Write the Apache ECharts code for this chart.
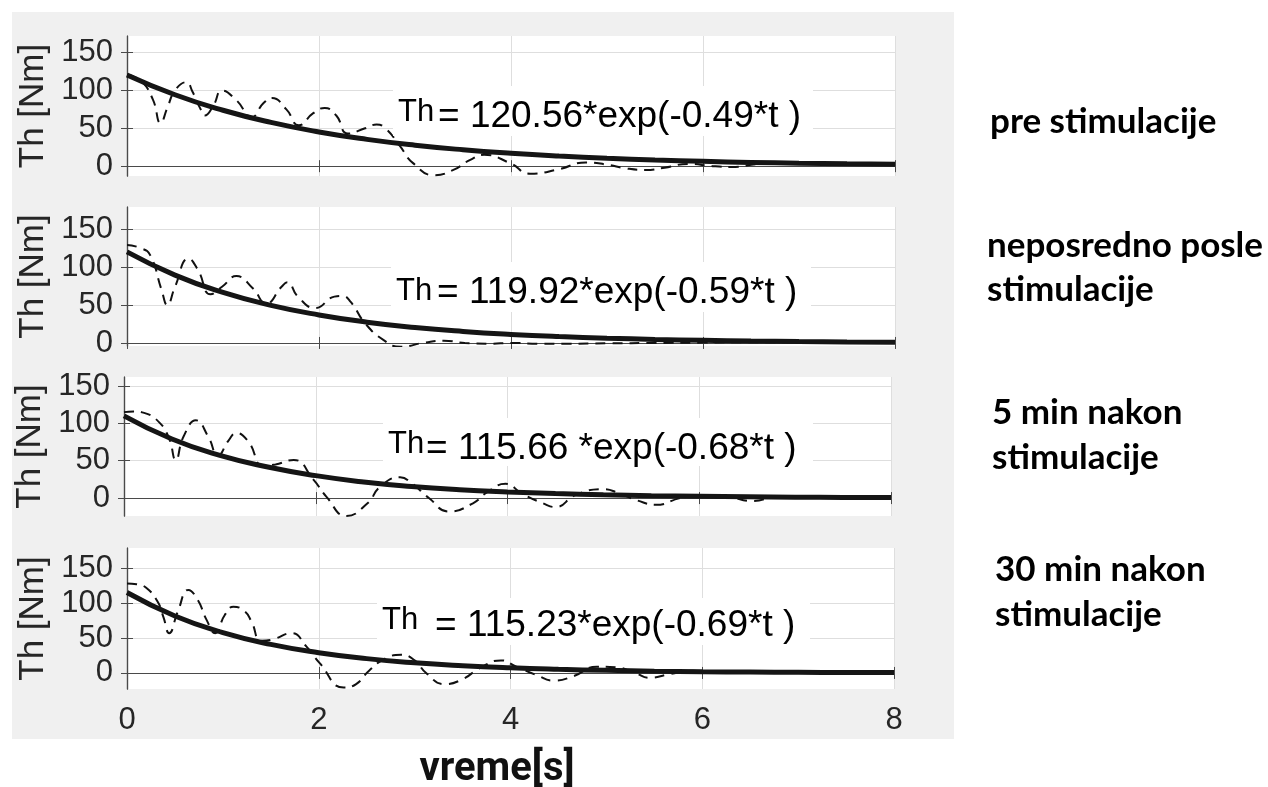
<!DOCTYPE html>
<html><head><meta charset="utf-8">
<script src="https://cdn.jsdelivr.net/npm/echarts@6/dist/echarts.min.js"></script>
<style>html,body{margin:0;padding:0;background:#fff}#c{width:1268px;height:787px}</style>
</head><body><div id="c"></div>
<script>
// ---- data ----
const xTicks = [0, 2, 4, 6, 8];
const yTicks = [0, 50, 100, 150];
const fitT = [0,0.5,1,1.5,2,2.5,3,3.5,4,4.5,5,5.5,6,6.5,7,7.5,8];
const fit1 = [120.6,94.4,73.9,57.8,45.2,35.4,27.7,21.7,17.0,13.3,10.4,8.1,6.4,5.0,3.9,3.1,2.4];
const fit2 = [119.9,89.3,66.5,49.5,36.9,27.4,20.4,15.2,11.3,8.4,6.3,4.7,3.5,2.6,1.9,1.4,1.1];
const fit3 = [110,79,57,41.5,30,21.5,15.5,11.2,8.2,6.0,4.3,3.1,2.3,1.7,1.2,0.9,0.7];
const fit4 = [115.2,81.6,57.8,40.9,29.0,20.5,14.5,10.3,7.3,5.2,3.7,2.6,1.8,1.3,0.9,0.6,0.5];

const dash1T = [0,0.15,0.27,0.35,0.42,0.5,0.62,0.68,0.76,0.81,0.9,0.99,1.14,1.3,1.42,1.51,1.66,1.79,1.94,2.06,2.18,2.3,2.48,2.6,2.7,2.84,2.98,3.2,3.4,3.57,3.72,3.99,4.2,4.5,4.78,5.0,5.2,5.4,5.6,5.85,6.1,6.3,6.6,7.0,7.5,8.0];
const dash1V = [121,112,88,57,77,100,111,99,77,67,80,100,87,65,83,90,75,54,70,77,67,43,50,55,49,27,4,-12,-5,8,15,4,-10,-4,5,2,-3,-5,-2,3,0,-1,3,3.5,3,2.4];
const dash2T = [0,0.14,0.24,0.36,0.42,0.5,0.64,0.74,0.87,0.99,1.14,1.31,1.45,1.61,1.67,1.78,1.96,2.16,2.24,2.33,2.48,2.67,2.85,3.1,3.3,3.52,3.78,4.0,4.3,4.6,5.0,5.5,6.0,6.5,7.0,7.5,8.0];
const dash2V = [129,125,116,70,50,74,111,96,64,74,88,72,52,74,80,61,46,61,62,54,26,4,-5,0.5,3,0,-1,0,-1,-1,-0.5,0,0.5,1,1,1,1];
const dash3T = [0,0.1,0.21,0.37,0.47,0.54,0.62,0.75,0.88,0.98,1.09,1.17,1.3,1.45,1.58,1.77,1.98,2.11,2.32,2.54,2.67,2.88,3.0,3.18,3.39,3.64,3.79,3.98,4.15,4.37,4.5,4.71,5.0,5.17,5.35,5.55,5.8,6.0,6.3,6.55,6.8,7.0,7.5,8.0];
const dash3V = [115,116,114,101,80,51,82,104,82,57,77,87,75,43,45,51,24,2,-24,-7,15,28,20,0,-18,-7,8,19,6,-7,-12,4,12,6,-3,-9,0,4,2,-4,1,1.5,1,0.7];
const dash4T = [0,0.1,0.2,0.32,0.38,0.44,0.53,0.64,0.74,0.83,0.92,1.02,1.11,1.23,1.3,1.4,1.52,1.72,1.87,2.01,2.26,2.39,2.53,2.7,2.86,3.0,3.12,3.31,3.5,3.68,3.9,4.06,4.27,4.45,4.65,4.9,5.1,5.3,5.45,5.65,5.9,6.2,6.5,7.0,7.5,8.0];
const dash4V = [128,127,122,102,80,57,88,119,104,76,57,83,95,88,73,46,48,57,38,14,-21,-16,4,21,26,18,0,-16,-9,7,18,9,-3,-11,-5,9,8,0,-7,-2,3,2,1.5,1,0.7,0.5];

const panelLabels = [['pre stimulacije'], ['neposredno posle', 'stimulacije'], ['5 min nakon', 'stimulacije'], ['30 min nakon', 'stimulacije']];
const eqTexts = ['= 120.56*exp(-0.49*t )', '= 119.92*exp(-0.59*t )', '= 115.66 *exp(-0.68*t )', '= 115.23*exp(-0.69*t )'];
const xName = 'vreme[s]';
const yName = 'Th [Nm]';

// ---- layout ----
const grids = [
  {left: 127, top: 36, width: 768, height: 140},
  {left: 127, top: 207, width: 768, height: 139},
  {left: 124, top: 377, width: 767, height: 139},
  {left: 127, top: 548, width: 767, height: 141}
];
const yRanges = [[-13, 172], [-4, 179], [-24, 162], [-23, 179]];
const fits = [fit1, fit2, fit3, fit4];
const dashes = [[dash1T, dash1V], [dash2T, dash2V], [dash3T, dash3V], [dash4T, dash4V]];

const axisCol = '#4a4a4a';
const labCol = '#262626';
const gridCol = '#dedede';
const FONT = 'Liberation Sans, Arial, sans-serif';

const xAxis = [], yAxis = [], series = [];
grids.forEach((g, i) => {
  const base = {gridIndex: i, type: 'value', min: 0, max: 8, interval: 2,
    axisLine: {show: true, lineStyle: {color: axisCol, width: 1.2}},
    axisTick: {show: true, inside: true, length: 6, lineStyle: {color: axisCol}}};
  xAxis.push(Object.assign({}, base, {position: 'bottom',
    axisLabel: {show: i === 3, fontSize: 31, color: labCol, fontFamily: FONT, margin: 16},
    splitLine: {show: true, lineStyle: {color: gridCol, width: 1}}}));
  xAxis.push(Object.assign({}, base, {position: 'top', axisLabel: {show: false}, splitLine: {show: false}}));
  const yb = {gridIndex: i, type: 'value', min: yRanges[i][0], max: yRanges[i][1],
    axisLine: {show: true, lineStyle: {color: axisCol, width: 1.2}},
    axisTick: {show: true, inside: true, length: 6, customValues: yTicks, lineStyle: {color: axisCol}}};
  yAxis.push(Object.assign({}, yb, {position: 'left',
    name: yName, nameLocation: 'middle', nameGap: 74,
    nameTextStyle: {fontSize: 35, color: labCol, fontFamily: FONT},
    axisLabel: {show: true, customValues: yTicks, fontSize: 31, color: labCol, fontFamily: FONT, margin: 14},
    splitLine: {show: true, lineStyle: {color: gridCol, width: 1}}}));
  yAxis.push(Object.assign({}, yb, {position: 'right', axisLabel: {show: false, customValues: yTicks}, splitLine: {show: false}}));

  series.push({type: 'line', xAxisIndex: 2 * i, yAxisIndex: 2 * i, symbol: 'none', smooth: 0.5,
    data: dashes[i][0].map((t, k) => [t, dashes[i][1][k]]),
    lineStyle: {color: '#111', width: 2, type: [10, 7]}, z: 3});
  series.push({type: 'line', xAxisIndex: 2 * i, yAxisIndex: 2 * i, symbol: 'none', smooth: true,
    data: fitT.map((t, k) => [t, fits[i][k]]),
    lineStyle: {color: '#151515', width: 5}, z: 4});
});

// annotations / outer texts
const ann = [
  {th: [398, 112], eq: [438, 117], box: [393, 86, 420, 50]},
  {th: [396, 291], eq: [437, 293], box: [391, 262, 420, 50]},
  {th: [388, 444], eq: [426, 449], box: [383, 418, 430, 48]},
  {th: [382, 620], eq: [435, 626], box: [377, 598, 433, 47]}
];
const labPos = [[[990, 122]], [[987, 246], [987, 290]], [[992, 413], [992, 458]], [[995, 570], [995, 615]]];

const graphic = [{type: 'rect', shape: {x: 12, y: 12, width: 942, height: 727}, style: {fill: '#f0f0f0'}, z: -100, silent: true}];
ann.forEach((a, i) => {
  graphic.push({type: 'rect', shape: {x: a.box[0], y: a.box[1], width: a.box[2], height: a.box[3]}, style: {fill: '#fff'}, z: 50});
  graphic.push({type: 'text', x: a.th[0], y: a.th[1], style: {text: 'Th', font: '31px ' + FONT, fill: '#000', verticalAlign: 'middle', align: 'left'}, z: 51});
  graphic.push({type: 'text', x: a.eq[0], y: a.eq[1], style: {text: eqTexts[i], font: '37px ' + FONT, fill: '#000', verticalAlign: 'middle', align: 'left'}, z: 51});
});
panelLabels.forEach((lines, i) => {
  lines.forEach((s, k) => {
    graphic.push({type: 'text', x: labPos[i][k][0], y: labPos[i][k][1], style: {text: s, font: 'bold 35px Lato, sans-serif', fill: '#000', verticalAlign: 'middle', align: 'left'}, z: 51});
  });
});
graphic.push({type: 'text', x: 497, y: 770, style: {text: xName, font: 'bold 40px Roboto, sans-serif', fill: '#111', verticalAlign: 'middle', align: 'center'}, z: 51});

const chart = echarts.init(document.getElementById('c'), null, {renderer: 'canvas'});
chart.setOption({
  animation: false,
  backgroundColor: '#fff',
  grid: grids.map(g => Object.assign({show: true, backgroundColor: '#fff', borderWidth: 0, containLabel: false}, g)),
  xAxis, yAxis, series, graphic
});
</script></body></html>
